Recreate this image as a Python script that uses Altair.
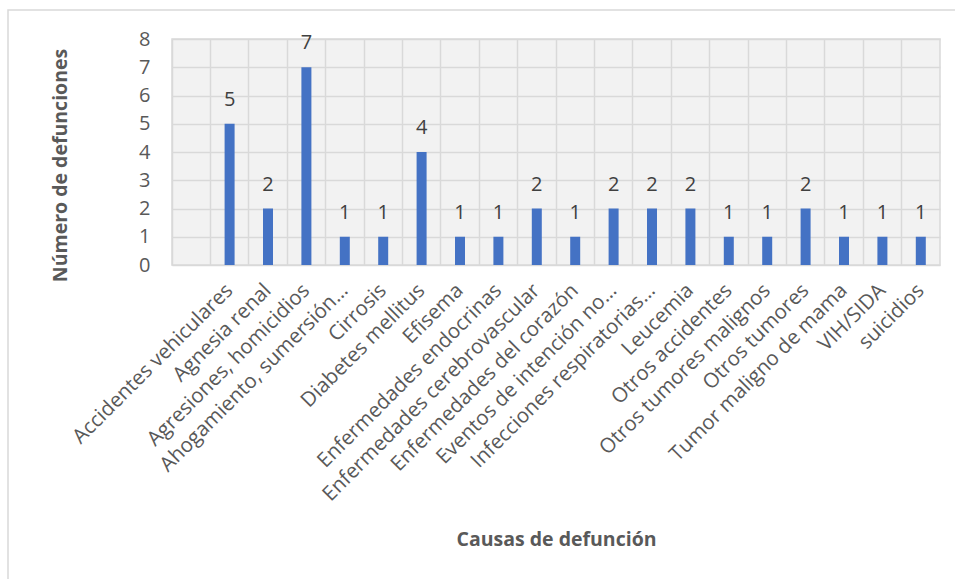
import altair as alt
import pandas as pd

causas = [
    "Accidentes vehiculares",
    "Agnesia renal",
    "Agresiones, homicidios",
    "Ahogamiento, sumersión…",
    "Cirrosis",
    "Diabetes mellitus",
    "Efisema",
    "Enfermedades endocrinas",
    "Enfermedades cerebrovascular",
    "Enfermedades del corazón",
    "Eventos de intención no…",
    "Infecciones respiratorias…",
    "Leucemia",
    "Otros accidentes",
    "Otros tumores malignos",
    "Otros tumores",
    "Tumor maligno de mama",
    "VIH/SIDA",
    "suicidios",
]
defunciones = [5, 2, 7, 1, 1, 4, 1, 1, 2, 1, 2, 2, 2, 1, 1, 2, 1, 1, 1]
y_max = 8

df = pd.DataFrame({"causa": causas, "n": defunciones})
domain = [""] + causas

FONT = "Open Sans"
TXT = "#595959"
GRID = "#d9d9d9"

x_enc = alt.X(
    "causa:N",
    scale=alt.Scale(domain=domain, paddingInner=0, paddingOuter=0),
    sort=None,
    axis=alt.Axis(
        title="Causas de defunción",
        labelAngle=-45,
        labelAlign="right",
        labelBaseline="middle",
        labelPadding=22,
        labelFontSize=20.5,
        labelColor=TXT,
        labelFont=FONT,
        labelLimit=400,
        labelOverlap=False,
        ticks=False,
        domain=False,
        grid=True,
        bandPosition=0,
        gridColor=GRID,
        gridWidth=1.5,
        titleFont=FONT,
        titleFontSize=19.5,
        titleFontWeight="bold",
        titleColor=TXT,
        titleX=384,
        titleY=274,
        titleBaseline="middle",
        titleAlign="center",
    ),
)
y_enc = alt.Y(
    "n:Q",
    scale=alt.Scale(domain=[0, y_max], nice=False),
    axis=alt.Axis(
        title="Número de defunciones",
        tickCount=y_max,
        tickMinStep=1,
        labelOverlap=False,
        labelFontSize=20,
        labelColor=TXT,
        labelFont=FONT,
        labelPadding=22,
        ticks=False,
        domain=False,
        grid=True,
        gridColor=GRID,
        gridWidth=1.5,
        titleFont=FONT,
        titleFontSize=19.5,
        titleFontWeight="bold",
        titleColor=TXT,
        titleX=-112,
        titleY=126,
        titleAngle=-90,
        titleBaseline="middle",
        titleAlign="center",
    ),
)

base = alt.Chart(df)
bars = base.mark_bar(color="#4472C4", size=10)
labels = base.mark_text(
    dy=-24, baseline="middle", fontSize=20, font=FONT, color="#404040"
).encode(text="n:Q")
data_layer = alt.layer(bars, labels).encode(x=x_enc, y=y_enc)

frame = alt.Chart(alt.Data(values=[{}])).mark_rect(
    fill="transparent", stroke="#d9d9d9", strokeWidth=1.5
).encode(
    x=alt.value(-164), x2=alt.value(820), y=alt.value(-29), y2=alt.value(620)
)

chart = (
    alt.layer(frame, data_layer)
    .properties(
        width=768,
        height=226,
        autosize=alt.AutoSizeParams(type="none"),
        padding={"left": 172, "top": 39, "right": 15, "bottom": 314},
        view=alt.ViewBackground(fill="#f2f2f2", stroke=GRID, strokeWidth=1.5),
    )
    .configure(background="white")
)

chart.save("out.html", embed_options={"renderer": "svg", "actions": False})
